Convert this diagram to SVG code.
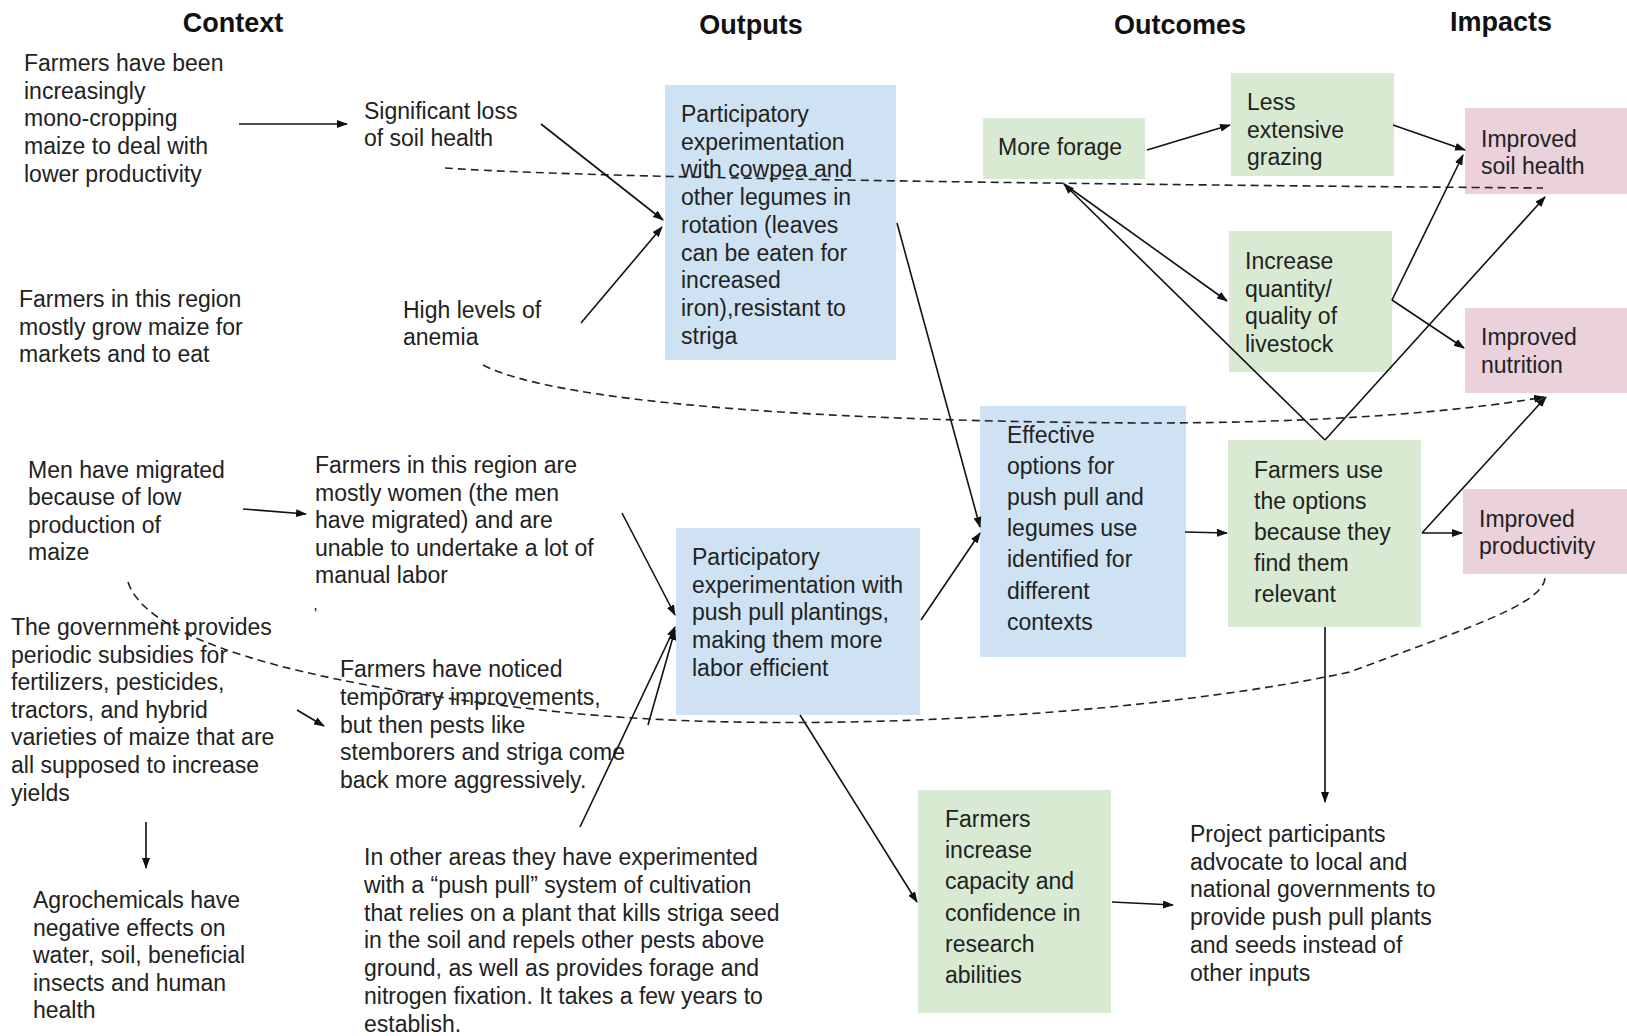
<svg xmlns="http://www.w3.org/2000/svg" width="1627" height="1036" viewBox="0 0 1627 1036">
<style>
text{font-family:"Liberation Sans",Arial,sans-serif;font-size:23px;fill:#222}
.title{font-weight:bold;font-size:27px;fill:#111;text-anchor:middle}
.blue{fill:#cfe2f3}
.green{fill:#d9ead3}
.pink{fill:#ead1dc}
.ln{stroke:#111;stroke-width:1.6;fill:none;marker-end:url(#ah)}
.dash{stroke:#222;stroke-width:1.6;fill:none;stroke-dasharray:8 5}
</style>
<defs>
<marker id="ah" markerUnits="userSpaceOnUse" markerWidth="11" markerHeight="8" refX="10" refY="4" orient="auto">
<path d="M0,0 L11,4 L0,8 z" fill="#111"/>
</marker>
</defs>
<rect width="1627" height="1036" fill="#fff"/>

<g id="titles">
<text class="title" x="233" y="32">Context</text>
<text class="title" x="751" y="34">Outputs</text>
<text class="title" x="1180" y="34">Outcomes</text>
<text class="title" x="1501" y="31">Impacts</text>
</g>

<g id="ctx-monocrop"><text x="24" y="71"><tspan x="24">Farmers have been</tspan><tspan x="24" dy="27.7">increasingly</tspan><tspan x="24" dy="27.7">mono-cropping</tspan><tspan x="24" dy="27.7">maize to deal with</tspan><tspan x="24" dy="27.7">lower productivity</tspan></text></g>
<g id="ctx-soilloss"><text x="364" y="119"><tspan x="364">Significant loss</tspan><tspan x="364" dy="27.3">of soil health</tspan></text></g>
<g id="ctx-maize"><text x="19" y="307"><tspan x="19">Farmers in this region</tspan><tspan x="19" dy="27.5">mostly grow maize for</tspan><tspan x="19" dy="27.5">markets and to eat</tspan></text></g>
<g id="ctx-anemia"><text x="403" y="318"><tspan x="403">High levels of</tspan><tspan x="403" dy="27.2">anemia</tspan></text></g>
<g id="ctx-migrated"><text x="28" y="478"><tspan x="28">Men have migrated</tspan><tspan x="28" dy="27.4">because of low</tspan><tspan x="28" dy="27.4">production of</tspan><tspan x="28" dy="27.4">maize</tspan></text></g>
<g id="ctx-women"><text x="315" y="473"><tspan x="315">Farmers in this region are</tspan><tspan x="315" dy="27.6">mostly women (the men</tspan><tspan x="315" dy="27.6">have migrated) and are</tspan><tspan x="315" dy="27.6">unable to undertake a lot of</tspan><tspan x="315" dy="27.6">manual labor</tspan></text><text x="314" y="620" style="font-size:16px">'</text></g>
<g id="ctx-government"><text x="11" y="635"><tspan x="11">The government provides</tspan><tspan x="11" dy="27.6">periodic subsidies for</tspan><tspan x="11" dy="27.6">fertilizers, pesticides,</tspan><tspan x="11" dy="27.6">tractors, and hybrid</tspan><tspan x="11" dy="27.6">varieties of maize that are</tspan><tspan x="11" dy="27.6">all supposed to increase</tspan><tspan x="11" dy="27.6">yields</tspan></text></g>
<g id="ctx-noticed"><text x="340" y="677"><tspan x="340">Farmers have noticed</tspan><tspan x="340" dy="27.8">temporary improvements,</tspan><tspan x="340" dy="27.8">but then pests like</tspan><tspan x="340" dy="27.8">stemborers and striga come</tspan><tspan x="340" dy="27.8">back more aggressively.</tspan></text></g>
<g id="ctx-agrochem"><text x="33" y="908"><tspan x="33">Agrochemicals have</tspan><tspan x="33" dy="27.6">negative effects on</tspan><tspan x="33" dy="27.6">water, soil, beneficial</tspan><tspan x="33" dy="27.6">insects and human</tspan><tspan x="33" dy="27.6">health</tspan></text></g>
<g id="ctx-otherareas"><text x="364" y="865"><tspan x="364">In other areas they have experimented</tspan><tspan x="364" dy="27.8">with a “push pull” system of cultivation</tspan><tspan x="364" dy="27.8">that relies on a plant that kills striga seed</tspan><tspan x="364" dy="27.8">in the soil and repels other pests above</tspan><tspan x="364" dy="27.8">ground, as well as provides forage and</tspan><tspan x="364" dy="27.8">nitrogen fixation. It takes a few years to</tspan><tspan x="364" dy="27.8">establish.</tspan></text></g>

<g id="out-cowpea"><rect class="blue" x="665" y="85" width="231" height="275"/><text x="681" y="122"><tspan x="681">Participatory</tspan><tspan x="681" dy="27.7">experimentation</tspan><tspan x="681" dy="27.7">with cowpea and</tspan><tspan x="681" dy="27.7">other legumes in</tspan><tspan x="681" dy="27.7">rotation (leaves</tspan><tspan x="681" dy="27.7">can be eaten for</tspan><tspan x="681" dy="27.7">increased</tspan><tspan x="681" dy="27.7">iron),resistant to</tspan><tspan x="681" dy="27.7">striga</tspan></text></g>
<g id="out-pushpull"><rect class="blue" x="676" y="528" width="244" height="187"/><text x="692" y="565"><tspan x="692">Participatory</tspan><tspan x="692" dy="27.7">experimentation with</tspan><tspan x="692" dy="27.7">push pull plantings,</tspan><tspan x="692" dy="27.7">making them more</tspan><tspan x="692" dy="27.7">labor efficient</tspan></text></g>
<g id="out-effective"><rect class="blue" x="980" y="406" width="206" height="251"/><text x="1007" y="443"><tspan x="1007">Effective</tspan><tspan x="1007" dy="31.1">options for</tspan><tspan x="1007" dy="31.1">push pull and</tspan><tspan x="1007" dy="31.1">legumes use</tspan><tspan x="1007" dy="31.1">identified for</tspan><tspan x="1007" dy="31.1">different</tspan><tspan x="1007" dy="31.1">contexts</tspan></text></g>

<g id="oc-forage"><rect class="green" x="983" y="118" width="162" height="61"/><text x="998" y="155">More forage</text></g>
<g id="oc-grazing"><rect class="green" x="1231" y="73" width="163" height="103"/><text x="1247" y="110"><tspan x="1247">Less</tspan><tspan x="1247" dy="27.5">extensive</tspan><tspan x="1247" dy="27.5">grazing</tspan></text></g>
<g id="oc-livestock"><rect class="green" x="1229" y="231" width="163" height="141"/><text x="1245" y="269"><tspan x="1245">Increase</tspan><tspan x="1245" dy="27.7">quantity/</tspan><tspan x="1245" dy="27.7">quality of</tspan><tspan x="1245" dy="27.7">livestock</tspan></text></g>
<g id="oc-farmersuse"><rect class="green" x="1228" y="440" width="193" height="187"/><text x="1254" y="478"><tspan x="1254">Farmers use</tspan><tspan x="1254" dy="30.9">the options</tspan><tspan x="1254" dy="30.9">because they</tspan><tspan x="1254" dy="30.9">find them</tspan><tspan x="1254" dy="30.9">relevant</tspan></text></g>
<g id="oc-capacity"><rect class="green" x="918" y="790" width="193" height="223"/><text x="945" y="827"><tspan x="945">Farmers</tspan><tspan x="945" dy="31.2">increase</tspan><tspan x="945" dy="31.2">capacity and</tspan><tspan x="945" dy="31.2">confidence in</tspan><tspan x="945" dy="31.2">research</tspan><tspan x="945" dy="31.2">abilities</tspan></text></g>
<g id="oc-advocate"><text x="1190" y="842"><tspan x="1190">Project participants</tspan><tspan x="1190" dy="27.7">advocate to local and</tspan><tspan x="1190" dy="27.7">national governments to</tspan><tspan x="1190" dy="27.7">provide push pull plants</tspan><tspan x="1190" dy="27.7">and seeds instead of</tspan><tspan x="1190" dy="27.7">other inputs</tspan></text></g>

<g id="im-soil"><rect class="pink" x="1465" y="108" width="162" height="86"/><text x="1481" y="147"><tspan x="1481">Improved</tspan><tspan x="1481" dy="27">soil health</tspan></text></g>
<g id="im-nutrition"><rect class="pink" x="1465" y="308" width="162" height="85"/><text x="1481" y="345"><tspan x="1481">Improved</tspan><tspan x="1481" dy="27.5">nutrition</tspan></text></g>
<g id="im-productivity"><rect class="pink" x="1463" y="489" width="164" height="85"/><text x="1479" y="527"><tspan x="1479">Improved</tspan><tspan x="1479" dy="27">productivity</tspan></text></g>

<g id="connectors">
<path class="dash" d="M445,168 C560,176 900,183 1543,188"/>
<path class="dash" d="M483,365 C560,405 850,422 1150,423 C1320,423 1460,412 1544,397" style="marker-end:url(#ah)"/>
<path class="dash" d="M128,582 C150,650 350,690 560,712 C800,737 1150,715 1350,672 C1460,630 1545,605 1545,577"/>
<line class="ln" x1="239" y1="124" x2="347" y2="124"/>
<line class="ln" x1="541" y1="124" x2="663" y2="220"/>
<line class="ln" x1="581" y1="323" x2="662" y2="227"/>
<line class="ln" x1="243" y1="509" x2="306" y2="514"/>
<line class="ln" x1="297" y1="710" x2="324" y2="726"/>
<line class="ln" x1="622" y1="513" x2="675" y2="615"/>
<line class="ln" x1="580" y1="827" x2="675" y2="627"/>
<line class="ln" x1="648" y1="725" x2="675" y2="630"/>
<line class="ln" x1="897" y1="223" x2="980" y2="527"/>
<line class="ln" x1="921" y1="620" x2="980" y2="533"/>
<line class="ln" x1="1185" y1="532" x2="1227" y2="533"/>
<line class="ln" x1="1422" y1="533" x2="1462" y2="533"/>
<line class="ln" x1="1422" y1="533" x2="1546" y2="397"/>
<line class="ln" x1="1325" y1="440" x2="1064" y2="184"/>
<line class="ln" x1="1064" y1="184" x2="1227" y2="301"/>
<line class="ln" x1="1325" y1="440" x2="1545" y2="197"/>
<line class="ln" x1="1393" y1="125" x2="1465" y2="150"/>
<line class="ln" x1="1392" y1="300" x2="1463" y2="155"/>
<line class="ln" x1="1392" y1="300" x2="1464" y2="348"/>
<line class="ln" x1="1147" y1="150" x2="1230" y2="125"/>
<line class="ln" x1="1325" y1="627" x2="1325" y2="802"/>
<line class="ln" x1="1112" y1="902" x2="1173" y2="905"/>
<line class="ln" x1="800" y1="715" x2="917" y2="902"/>
<line class="ln" x1="146" y1="822" x2="146" y2="868"/>
</g>
</svg>
